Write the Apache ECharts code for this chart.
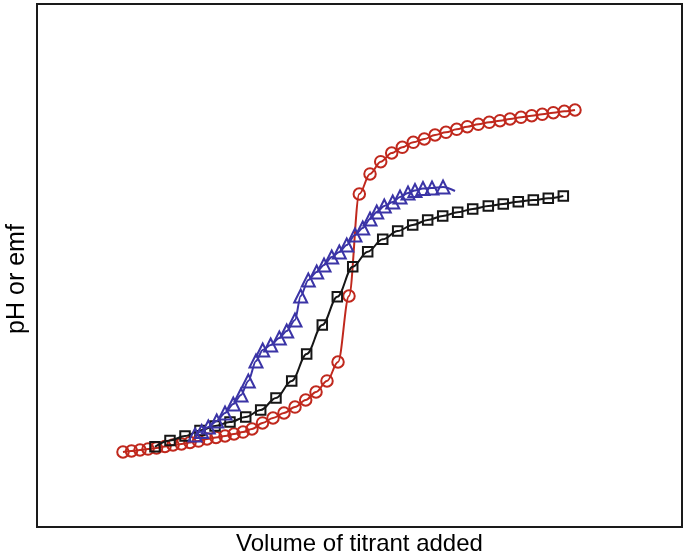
<!DOCTYPE html>
<html>
<head>
<meta charset="utf-8">
<script src="https://cdn.jsdelivr.net/npm/echarts@6/dist/echarts.min.js"></script>
<style>
html,body{margin:0;padding:0;background:#fff;}
#chart{width:685px;height:556px;}
</style>
</head>
<body>
<div id="chart"></div>
<script>
// Arbitrary units (no ticks on the original): x 0..100, y 0..100
var redX = [13.33,14.65,15.97,17.21,18.53,19.84,21.09,22.40,23.72,25.04,26.36,27.75,29.15,30.54,31.94,33.33,34.96,36.59,38.29,40.00,41.66,43.26,44.96,46.67,48.37,49.97,51.63,53.29,54.99,56.64,58.34,60.05,61.71,63.41,65.07,66.71,68.42,70.12,71.78,73.33,75.04,76.70,78.34,80.05,81.75,83.41];
var redY = [14.34,14.53,14.72,14.91,15.11,15.39,15.68,15.87,16.16,16.44,16.83,17.11,17.40,17.78,18.16,18.74,19.89,20.84,21.80,22.94,24.28,25.81,27.92,31.55,44.17,63.67,67.50,69.85,71.51,72.60,73.56,74.19,74.95,75.47,76.04,76.54,77.00,77.38,77.69,78.01,78.34,78.64,78.91,79.22,79.48,79.73];

var blackX = [18.29,20.62,22.95,25.27,27.60,29.92,32.36,34.68,37.05,39.49,41.81,44.23,46.56,48.95,51.27,53.60,55.92,58.25,60.57,62.90,65.22,67.55,69.97,72.29,74.62,76.95,79.27,81.60];
var blackY = [15.35,16.54,17.40,18.45,19.31,20.08,21.03,22.37,24.67,27.92,33.08,38.62,44.03,49.77,52.64,55.01,56.60,57.74,58.70,59.46,60.17,60.80,61.38,61.76,62.20,62.52,62.85,63.29];

var blueX = [24.50,25.53,26.56,27.86,29.15,30.43,31.63,32.76,33.95,34.99,36.23,37.57,38.71,40.00,40.88,42.06,43.36,44.50,45.69,46.87,48.02,49.30,50.50,51.63,52.67,53.84,55.15,56.28,57.52,58.60,59.84,61.24,62.95];
var blueY = [17.59,18.26,19.12,20.27,21.80,23.52,25.24,27.92,31.74,33.84,34.80,36.14,37.48,39.58,44.17,47.23,48.76,50.10,51.63,52.58,53.92,55.83,57.17,58.89,60.23,61.38,62.14,63.10,63.86,64.34,64.72,64.82,65.01];
// end of the fitted blue curve (no marker)
var blueLineEnd = [64.81, 64.24];

var xTitle = 'Volume of titrant added';
var yTitle = 'pH or emf';

var RED = '#c0281d', BLACK = '#161616', BLUE = '#3b34a6';
var FONT = 'Liberation Sans, Arial, sans-serif';

function pairs(xs, ys){ return xs.map(function(x,i){ return [x, ys[i]]; }); }

var blueData = pairs(blueX, blueY);
blueData.push({value: blueLineEnd, symbol: 'none'});

var chart = echarts.init(document.getElementById('chart'), null, {renderer:'canvas'});
chart.setOption({
  animation: false,
  backgroundColor: '#fff',
  grid: {left: 37, right: 3, top: 4, bottom: 29, outerBoundsMode: 'none', containLabel: false,
         show: true, borderColor: '#1a1a1a', borderWidth: 2, backgroundColor: 'transparent'},
  graphic: [{
    type: 'text', x: 17, y: 279, rotation: Math.PI / 2,
    style: {text: yTitle, font: '25px ' + FONT, fill: '#000', textAlign: 'center', textVerticalAlign: 'middle'}
  }],
  xAxis: {
    type: 'value', min: 0, max: 100,
    axisLine: {show: false}, axisTick: {show: false}, axisLabel: {show: false}, splitLine: {show: false},
    name: xTitle, nameLocation: 'middle', nameGap: 5,
    nameTextStyle: {fontFamily: FONT, fontSize: 24, color: '#000'}
  },
  yAxis: {
    type: 'value', min: 0, max: 100,
    axisLine: {show: false}, axisTick: {show: false}, axisLabel: {show: false}, splitLine: {show: false}
  },
  series: [
    {
      type: 'line', name: 'red', data: pairs(redX, redY),
      smooth: 0.35, smoothMonotone: 'x',
      symbol: 'circle', symbolSize: 11.5,
      lineStyle: {color: RED, width: 2},
      itemStyle: {color: 'rgba(0,0,0,0)', borderColor: RED, borderWidth: 2},
      z: 2
    },
    {
      type: 'line', name: 'black', data: pairs(blackX, blackY),
      smooth: 0.35, smoothMonotone: 'x',
      symbol: 'rect', symbolSize: 9.5,
      lineStyle: {color: BLACK, width: 2},
      itemStyle: {color: 'rgba(0,0,0,0)', borderColor: BLACK, borderWidth: 2},
      z: 3
    },
    {
      type: 'line', name: 'blue', data: blueData,
      smooth: 0.3, smoothMonotone: 'x',
      symbol: 'triangle', symbolSize: 13,
      lineStyle: {color: BLUE, width: 2},
      itemStyle: {color: 'rgba(0,0,0,0)', borderColor: BLUE, borderWidth: 2},
      z: 4
    }
  ]
});
</script>
</body>
</html>
